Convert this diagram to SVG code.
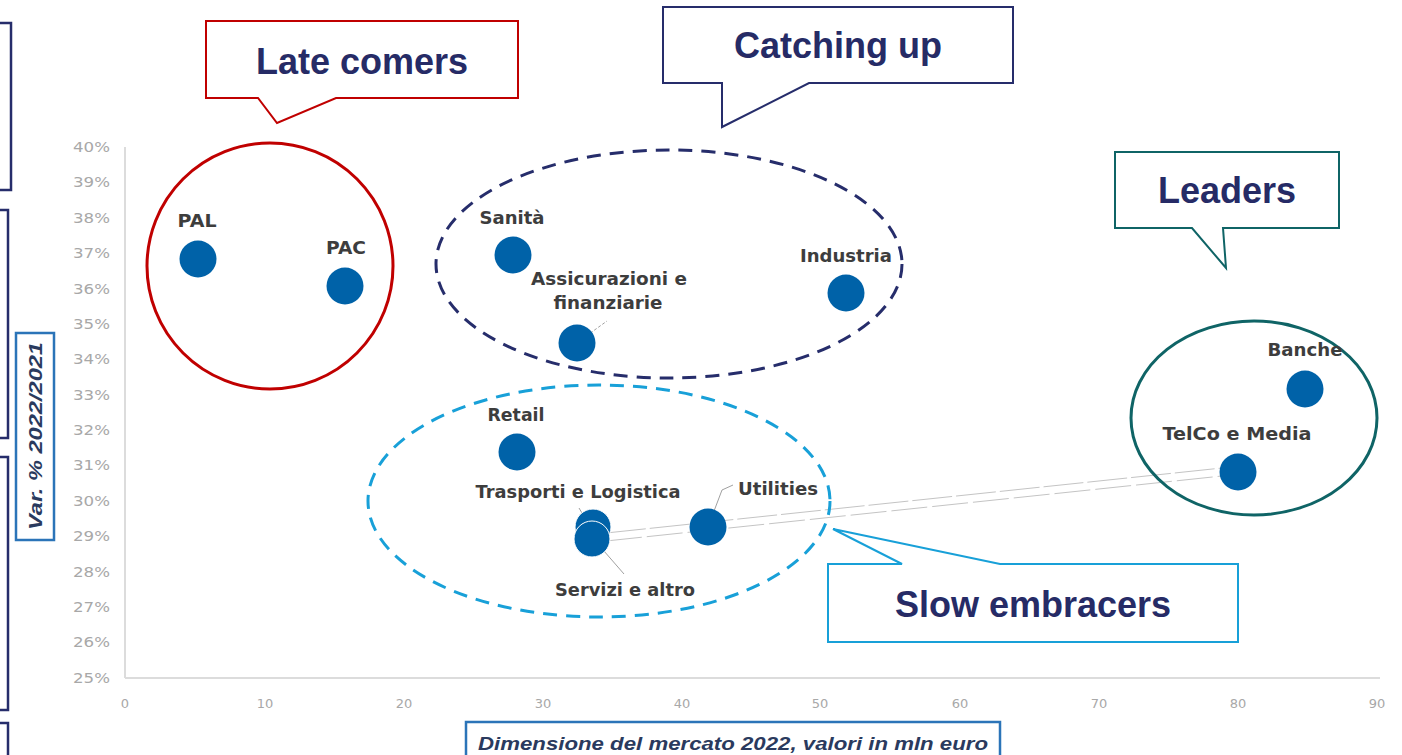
<svg xmlns="http://www.w3.org/2000/svg" width="1402" height="755" viewBox="0 0 1402 755">
<style>
.tick{font-family:"DejaVu Sans",sans-serif;font-size:14px;fill:#a8a8a8}
.xt{font-family:"DejaVu Sans",sans-serif;font-size:13px;fill:#a8a8a8}
.lbl{font-family:"DejaVu Sans",sans-serif;font-size:17px;font-weight:bold;fill:#3d3d3d}
.bub{fill:#0062a8}
.call{font-family:"Liberation Sans",Arial,sans-serif;font-size:36px;font-weight:bold;fill:#262b66}
.axt{font-family:"Liberation Sans",Arial,sans-serif;font-weight:bold;font-style:italic;fill:#2a3a5e}
.lead{stroke:#a0a0a0;stroke-width:1;fill:none}
.side{fill:#fff;stroke:#262d6b;stroke-width:2.5}
</style>
<rect width="1402" height="755" fill="#fff"/>
<g id="side-boxes">
<rect class="side" x="-20" y="23" width="31" height="167"/>
<rect class="side" x="-20" y="210" width="28" height="228"/>
<rect class="side" x="-20" y="457" width="28" height="253"/>
<rect class="side" x="-20" y="723" width="28" height="60"/>
</g>
<g id="axes">
<line x1="125" y1="147" x2="125" y2="678" stroke="#dcdcdc" stroke-width="2"/>
<line x1="125" y1="678" x2="1380" y2="678" stroke="#dcdcdc" stroke-width="2"/>
<g class="tick" text-anchor="end">
<text x="110" y="152" textLength="37" lengthAdjust="spacingAndGlyphs">40%</text>
<text x="110" y="187" textLength="37" lengthAdjust="spacingAndGlyphs">39%</text>
<text x="110" y="223" textLength="37" lengthAdjust="spacingAndGlyphs">38%</text>
<text x="110" y="258" textLength="37" lengthAdjust="spacingAndGlyphs">37%</text>
<text x="110" y="294" textLength="37" lengthAdjust="spacingAndGlyphs">36%</text>
<text x="110" y="329" textLength="37" lengthAdjust="spacingAndGlyphs">35%</text>
<text x="110" y="364" textLength="37" lengthAdjust="spacingAndGlyphs">34%</text>
<text x="110" y="400" textLength="37" lengthAdjust="spacingAndGlyphs">33%</text>
<text x="110" y="435" textLength="37" lengthAdjust="spacingAndGlyphs">32%</text>
<text x="110" y="470" textLength="37" lengthAdjust="spacingAndGlyphs">31%</text>
<text x="110" y="506" textLength="37" lengthAdjust="spacingAndGlyphs">30%</text>
<text x="110" y="541" textLength="37" lengthAdjust="spacingAndGlyphs">29%</text>
<text x="110" y="577" textLength="37" lengthAdjust="spacingAndGlyphs">28%</text>
<text x="110" y="612" textLength="37" lengthAdjust="spacingAndGlyphs">27%</text>
<text x="110" y="647" textLength="37" lengthAdjust="spacingAndGlyphs">26%</text>
<text x="110" y="683" textLength="37" lengthAdjust="spacingAndGlyphs">25%</text>
</g>
<g class="xt" text-anchor="middle">
<text x="125" y="708">0</text>
<text x="265" y="708">10</text>
<text x="404" y="708">20</text>
<text x="543" y="708">30</text>
<text x="682" y="708">40</text>
<text x="820" y="708">50</text>
<text x="960" y="708">60</text>
<text x="1099" y="708">70</text>
<text x="1238" y="708">80</text>
<text x="1377" y="708">90</text>
</g>
</g>
<g id="y-title">
<rect x="16" y="333" width="38" height="207" fill="#fff" stroke="#2b74b8" stroke-width="2.5"/>
<text class="axt" font-size="18" transform="translate(42,436) rotate(-90)" text-anchor="middle" textLength="188" lengthAdjust="spacingAndGlyphs">Var. % 2022/2021</text>
</g>
<g id="x-title">
<rect x="466" y="722" width="534" height="45" fill="#fff" stroke="#2b74b8" stroke-width="2.5"/>
<text class="axt" x="478" y="750" font-size="18" textLength="510" lengthAdjust="spacingAndGlyphs">Dimensione del mercato 2022, valori in mln euro</text>
</g>
<g id="connectors">
<line x1="606" y1="533" x2="1222" y2="468" stroke="#c4c4c4" stroke-width="1" stroke-dasharray="40 4"/>
<line x1="606" y1="541" x2="1222" y2="476" stroke="#c4c4c4" stroke-width="1" stroke-dasharray="36 5"/>
<line class="lead" x1="578" y1="342" x2="607" y2="321" stroke-dasharray="3 2"/>
<line class="lead" x1="579" y1="508" x2="598" y2="540"/>
<line class="lead" x1="597" y1="543" x2="624" y2="574"/>
<polyline class="lead" points="708,527 722,490 733,485"/>
</g>
<g id="group-late-comers">
<circle cx="270" cy="266" r="123" fill="none" stroke="#c00000" stroke-width="3"/>
</g>
<g id="group-catching-up">
<ellipse cx="669" cy="264" rx="233" ry="114" fill="none" stroke="#262d6b" stroke-width="3" stroke-dasharray="14 9"/>
</g>
<g id="group-slow">
<ellipse cx="599" cy="501" rx="231" ry="116" fill="none" stroke="#18a0d8" stroke-width="3" stroke-dasharray="14 9"/>
</g>
<g id="group-leaders">
<ellipse cx="1254" cy="418" rx="123" ry="97" fill="none" stroke="#0f6466" stroke-width="3"/>
</g>
<g id="node-pal"><circle class="bub" cx="198" cy="259" r="18.5"/><text class="lbl" x="197" y="227" text-anchor="middle" textLength="39" lengthAdjust="spacingAndGlyphs">PAL</text></g>
<g id="node-pac"><circle class="bub" cx="345" cy="286" r="18.5"/><text class="lbl" x="346" y="254" text-anchor="middle" textLength="40" lengthAdjust="spacingAndGlyphs">PAC</text></g>
<g id="node-sanita"><circle class="bub" cx="513" cy="255" r="18.5"/><text class="lbl" x="512" y="224" text-anchor="middle" textLength="65" lengthAdjust="spacingAndGlyphs">Sanità</text></g>
<g id="node-assicurazioni"><circle class="bub" cx="577" cy="343" r="18.5"/><text class="lbl" x="609" y="285" text-anchor="middle" textLength="156" lengthAdjust="spacingAndGlyphs">Assicurazioni e</text><text class="lbl" x="608" y="309" text-anchor="middle" textLength="109" lengthAdjust="spacingAndGlyphs">finanziarie</text></g>
<g id="node-industria"><circle class="bub" cx="846" cy="293" r="18.5"/><text class="lbl" x="846" y="262" text-anchor="middle" textLength="92" lengthAdjust="spacingAndGlyphs">Industria</text></g>
<g id="node-retail"><circle class="bub" cx="517" cy="452" r="18.5"/><text class="lbl" x="516" y="421" text-anchor="middle" textLength="57" lengthAdjust="spacingAndGlyphs">Retail</text></g>
<g id="node-trasporti"><circle class="bub" cx="593" cy="527" r="18" stroke="#fff" stroke-width="1"/><text class="lbl" x="578" y="498" text-anchor="middle" textLength="205" lengthAdjust="spacingAndGlyphs">Trasporti e Logistica</text></g>
<g id="node-servizi"><circle class="bub" cx="592" cy="539" r="18" stroke="#fff" stroke-width="1"/><text class="lbl" x="625" y="596" text-anchor="middle" textLength="140" lengthAdjust="spacingAndGlyphs">Servizi e altro</text></g>
<g id="node-utilities"><circle class="bub" cx="708" cy="527" r="18.5"/><text class="lbl" x="778" y="495" text-anchor="middle" textLength="80" lengthAdjust="spacingAndGlyphs">Utilities</text></g>
<g id="node-banche"><circle class="bub" cx="1305" cy="389" r="18.5"/><text class="lbl" x="1305" y="356" text-anchor="middle" textLength="75" lengthAdjust="spacingAndGlyphs">Banche</text></g>
<g id="node-telco"><circle class="bub" cx="1238" cy="472" r="18.5"/><text class="lbl" x="1237" y="440" text-anchor="middle" textLength="149" lengthAdjust="spacingAndGlyphs">TelCo e Media</text></g>
<g id="callout-late-comers">
<path d="M206,21 H518 V98 H336 L277,123 L258,98 H206 Z" fill="#fff" stroke="#c00000" stroke-width="2"/>
<text class="call" x="362" y="74" text-anchor="middle">Late comers</text>
</g>
<g id="callout-catching-up">
<path d="M663,7 H1013 V83 H809 L722,127 V83 H663 Z" fill="#fff" stroke="#262d6b" stroke-width="2"/>
<text class="call" x="838" y="58" text-anchor="middle">Catching up</text>
</g>
<g id="callout-leaders">
<path d="M1115,152 H1339 V228 H1223 L1226,268 L1192,228 H1115 Z" fill="#fff" stroke="#0f6466" stroke-width="2"/>
<text class="call" x="1227" y="203" text-anchor="middle">Leaders</text>
</g>
<g id="callout-slow">
<path d="M828,564 H902 L833,529 L1000,564 H1238 V642 H828 Z" fill="#fff" stroke="#18a0d8" stroke-width="2"/>
<text class="call" x="1033" y="617" text-anchor="middle">Slow embracers</text>
</g>
</svg>
